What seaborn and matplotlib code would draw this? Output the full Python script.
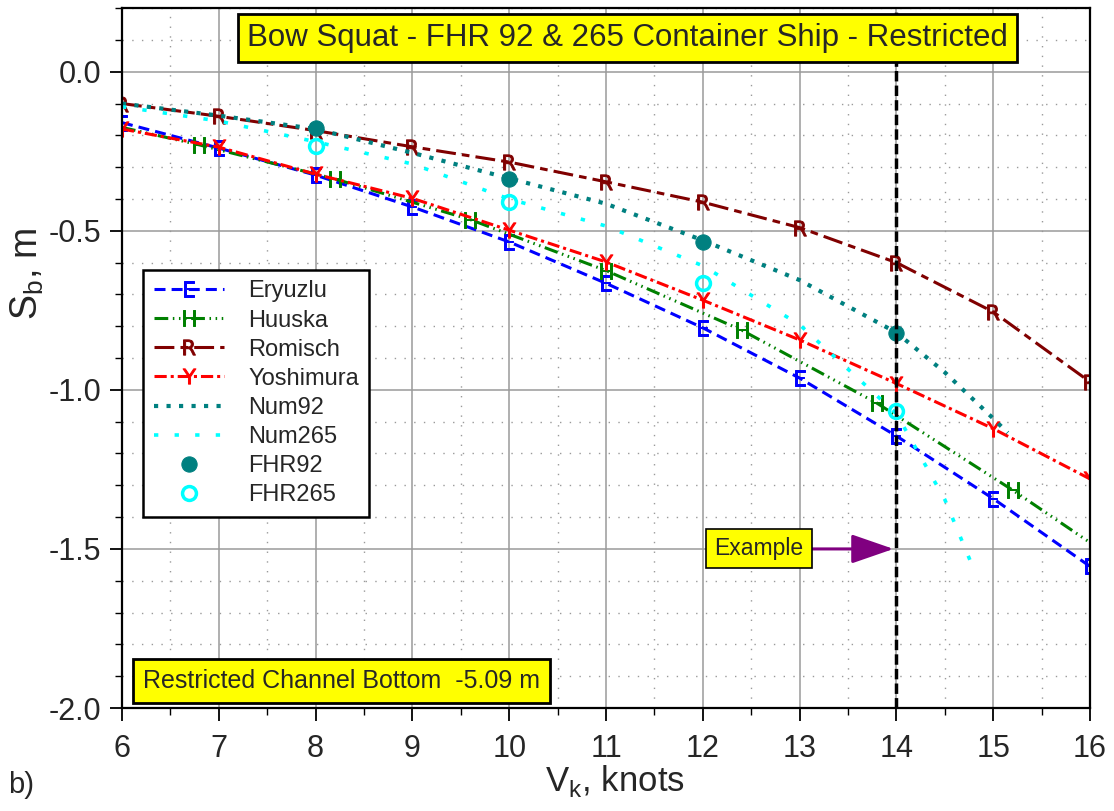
import matplotlib
matplotlib.use("Agg")
import matplotlib.pyplot as plt
from matplotlib.ticker import MultipleLocator, FormatStrFormatter
import seaborn as sns

# speeds (knots) for the empirical formulas
speed = [6, 7, 8, 9, 10, 11, 12, 13, 14, 15, 16]
eryuzlu = [-0.16, -0.24, -0.325, -0.425, -0.535, -0.665, -0.805, -0.963, -1.145, -1.342, -1.555]
romisch = [-0.10, -0.14, -0.185, -0.236, -0.284, -0.346, -0.41, -0.49, -0.60, -0.755, -0.975]
yoshimura = [-0.18, -0.237, -0.322, -0.398, -0.498, -0.598, -0.718, -0.843, -0.98, -1.122, -1.28]

# Huuska has its markers every 1.4 knots
speed_h = [6.0, 6.8, 8.2, 9.6, 11.0, 12.4, 13.8, 15.2, 16.0]
huuska = [-0.175, -0.23, -0.337, -0.465, -0.625, -0.812, -1.042, -1.315, -1.48]

# numerical results
speed_n92 = [6, 7, 8, 9, 10, 11, 12, 13, 14, 14.5, 15, 15.15]
num92 = [-0.10, -0.138, -0.18, -0.255, -0.335, -0.415, -0.53, -0.655, -0.82, -0.945, -1.09, -1.135]
speed_n265 = [6, 7, 8, 9, 10, 11, 12, 13, 14, 14.5, 14.78]
num265 = [-0.11, -0.155, -0.22, -0.29, -0.40, -0.485, -0.61, -0.795, -1.075, -1.345, -1.55]

# model test points
speed_fhr = [8, 10, 12, 14]
fhr92 = [-0.178, -0.337, -0.535, -0.82]
fhr265 = [-0.232, -0.41, -0.665, -1.065]

example_speed = 14
example_squat = -1.5

sns.set_theme(style="ticks")
plt.rcParams["font.family"] = ["Liberation Sans", "DejaVu Sans"]
plt.rcParams["axes.unicode_minus"] = False

fig, ax = plt.subplots(figsize=(11.14, 8.11), dpi=100)
fig.subplots_adjust(left=0.1095, right=0.9785, bottom=0.127, top=0.990)

def letter(ch, col):
    return dict(marker=r"$\mathsf{%s}$" % ch, markersize=11, markevery=None,
                markeredgecolor=col, markeredgewidth=0.7, markerfacecolor=col)

sns.lineplot(x=speed, y=eryuzlu, color="#0000ff", lw=2.2, linestyle=(0, (3.6, 2)),
             label="Eryuzlu", ax=ax, **letter("E", "#0000ff"))
kw = letter("H", "#008000")
kw["markevery"] = [1, 2, 3, 4, 5, 6, 7]
sns.lineplot(x=speed_h, y=huuska, color="#008000", lw=2.2,
             linestyle=(0, (4.5, 1.5, 0.5, 1.5, 0.5, 1.5, 0.5, 1.5)),
             label="Huuska", ax=ax, **kw)
sns.lineplot(x=speed, y=romisch, color="#800000", lw=2.2, linestyle=(0, (6.5, 2, 2.5, 2)),
             label="Romisch", ax=ax, **letter("R", "#800000"))
sns.lineplot(x=speed, y=yoshimura, color="#ff0000", lw=2.2, linestyle=(0, (4, 1.3, 1, 1.3)),
             label="Yoshimura", ax=ax, **letter("Y", "#ff0000"))
sns.lineplot(x=speed_n92, y=num92, color="#008080", lw=3, linestyle=(0, (1, 2)),
             label="Num92", ax=ax)
sns.lineplot(x=speed_n265, y=num265, color="#00ffff", lw=2.6, linestyle=(0, (1.2, 4.5)),
             label="Num265", ax=ax)
sns.lineplot(x=speed_fhr, y=fhr92, color="#008080", linestyle="none", marker="o",
             markersize=11, markerfacecolor="#008080", markeredgecolor="#008080",
             label="FHR92", ax=ax)
sns.lineplot(x=speed_fhr, y=fhr265, color="#00ffff", linestyle="none", marker="o",
             markersize=10, markerfacecolor="none", markeredgecolor="#00ffff",
             markeredgewidth=2.5, label="FHR265", ax=ax)

# example line at 14 knots
ax.axvline(example_speed, color="black", lw=2.5, linestyle=(0, (3, 1.2)), zorder=5)
ax.annotate("Example", xy=(example_speed - 0.03, example_squat), xytext=(12.58, example_squat),
            ha="center", va="center", fontsize=16.5,
            bbox=dict(boxstyle="square,pad=0.35", fc="yellow", ec="black", lw=1.2),
            arrowprops=dict(arrowstyle="-|>,head_length=1.3,head_width=0.45", color="#800080",
                            lw=2.2, mutation_scale=20, shrinkA=0, shrinkB=0))

ax.text(0.522, 0.957, "Bow Squat - FHR 92 & 265 Container Ship - Restricted",
        transform=ax.transAxes, ha="center", va="center", fontsize=22.5, zorder=10,
        bbox=dict(boxstyle="square,pad=0.28", fc="yellow", ec="black", lw=2))
ax.text(8.27, -1.915, "Restricted Channel Bottom  -5.09 m", ha="center", va="center",
        fontsize=18, zorder=10,
        bbox=dict(boxstyle="square,pad=0.4", fc="yellow", ec="black", lw=2))

ax.set_xlim(6, 16)
ax.set_ylim(-2.0, 0.2)
ax.xaxis.set_major_locator(MultipleLocator(1))
ax.xaxis.set_minor_locator(MultipleLocator(0.5))
ax.yaxis.set_major_locator(MultipleLocator(0.5))
ax.yaxis.set_minor_locator(MultipleLocator(0.1))
ax.yaxis.set_major_formatter(FormatStrFormatter("%.1f"))
ax.grid(which="major", color="#9a9a9a", lw=1.1)
ax.grid(which="minor", color="#9a9a9a", lw=1.0, linestyle=(0, (1, 6)))
ax.tick_params(which="major", direction="out", length=9, width=1.3, labelsize=22, color="black")
ax.tick_params(which="minor", direction="out", length=5, width=1.0, color="black")
ax.tick_params(axis="x", which="major", pad=10)
ax.tick_params(axis="y", which="major", pad=6)
for sp in ax.spines.values():
    sp.set_color("black")
    sp.set_linewidth(1.6)

ax.set_xlabel(r"V$_\mathregular{k}$, knots", fontsize=25)
ax.set_ylabel(r"S$_\mathregular{b}$, m", fontsize=27)
ax.xaxis.set_label_coords(0.509, -0.078)
ax.yaxis.set_label_coords(-0.078, 0.62)

leg = ax.legend(loc="upper left", bbox_to_anchor=(0.0217, 0.626), borderaxespad=0,
                fontsize=17, frameon=True, fancybox=False, handlelength=3.0,
                handletextpad=1.0, labelspacing=0.3, borderpad=0.45)
leg.get_frame().set_edgecolor("black")
leg.get_frame().set_linewidth(1.8)
leg.get_frame().set_alpha(1)

fig.text(0.007, 0.032, "b)", fontsize=21, ha="left", va="center")

fig.savefig("out.png", dpi=100)
